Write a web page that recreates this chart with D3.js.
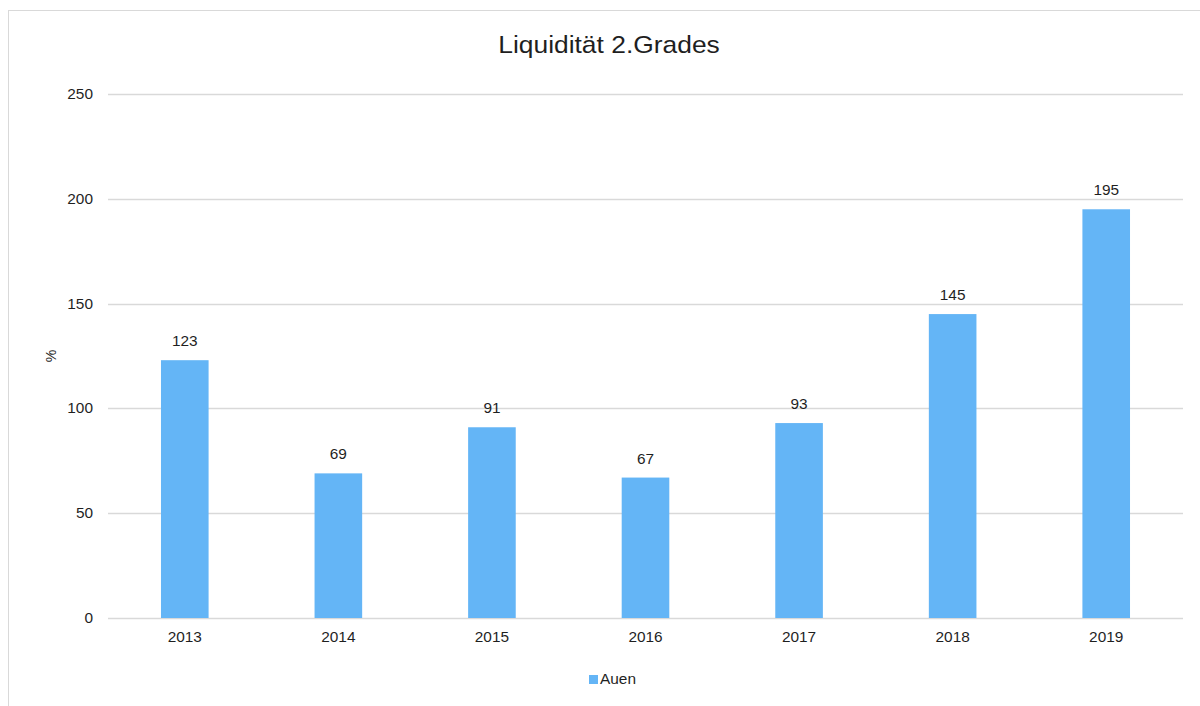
<!DOCTYPE html>
<html>
<head>
<meta charset="utf-8">
<script src="https://cdn.jsdelivr.net/npm/d3@7"></script>
<style>
  body { margin: 0; background: #fff; }
  svg text { font-family: "Liberation Sans", Arial, sans-serif; fill: #1f1f1f; }
</style>
</head>
<body>
<div id="chart"></div>
<script>
const years = ["2013", "2014", "2015", "2016", "2017", "2018", "2019"];
const values = [123, 69, 91, 67, 93, 145, 195];
const yTicks = [0, 50, 100, 150, 200, 250];
const seriesName = "Auen";
const title = "Liquidität 2.Grades";

const width = 1200, height = 706;
const margin = { top: 94, right: 17, bottom: 88, left: 108 };
const stretch = 1.1; // source text renders a little wider than Arial

const svg = d3.select("#chart").append("svg")
  .attr("width", width)
  .attr("height", height);

// place a text at (x, y), widened horizontally
const place = (x, y) => `translate(${x},${y}) scale(${stretch},1)`;

// chart frame (right/bottom edges fall outside the window)
svg.append("rect")
  .attr("x", 8.5).attr("y", 10.5)
  .attr("width", 1210).attr("height", 720)
  .attr("fill", "none")
  .attr("stroke", "#d9d9d9");

const x = d3.scaleBand()
  .domain(years)
  .range([margin.left, width - margin.right]);

const y = d3.scaleLinear()
  .domain([0, 250])
  .range([height - margin.bottom, margin.top]);

const barW = x.bandwidth() * 0.31;

// gridlines
svg.append("g")
  .selectAll("line")
  .data(yTicks)
  .join("line")
  .attr("x1", margin.left)
  .attr("x2", width - margin.right)
  .attr("y1", d => Math.round(y(d)) + 0.5)
  .attr("y2", d => Math.round(y(d)) + 0.5)
  .attr("stroke", "#d9d9d9")
  .attr("stroke-width", 1.3);

// y labels
svg.append("g")
  .selectAll("text")
  .data(yTicks)
  .join("text")
  .attr("transform", d => place(margin.left - 15, y(d)))
  .attr("dy", "0.35em")
  .attr("text-anchor", "end")
  .attr("font-size", 14)
  .text(d => d);

// bars
svg.append("g")
  .selectAll("rect")
  .data(values)
  .join("rect")
  .attr("x", (d, i) => x(years[i]) + x.bandwidth() / 2 - barW / 2)
  .attr("y", d => y(d))
  .attr("width", barW)
  .attr("height", d => y(0) - y(d))
  .attr("fill", "#64b5f6");

// value labels
svg.append("g")
  .selectAll("text")
  .data(values)
  .join("text")
  .attr("transform", (d, i) => place(x(years[i]) + x.bandwidth() / 2, y(d) - 14))
  .attr("text-anchor", "middle")
  .attr("font-size", 14)
  .text(d => d);

// x labels
svg.append("g")
  .selectAll("text")
  .data(years)
  .join("text")
  .attr("transform", d => place(x(d) + x.bandwidth() / 2, y(0) + 24))
  .attr("text-anchor", "middle")
  .attr("font-size", 14)
  .text(d => d);

// y axis title
svg.append("text")
  .attr("transform", `translate(56, ${(y(0) + y(250)) / 2}) rotate(-90)`)
  .attr("text-anchor", "middle")
  .attr("font-size", 14)
  .text("%");

// chart title
svg.append("text")
  .attr("transform", place(609, 53))
  .attr("text-anchor", "middle")
  .attr("font-size", 24)
  .text(title);

// legend
const legend = svg.append("g").attr("transform", "translate(589, 675)");
legend.append("rect")
  .attr("width", 9).attr("height", 9)
  .attr("fill", "#64b5f6");
legend.append("text")
  .attr("transform", place(11, 4.5))
  .attr("dy", "0.35em")
  .attr("font-size", 14)
  .text(seriesName);
</script>
</body>
</html>
